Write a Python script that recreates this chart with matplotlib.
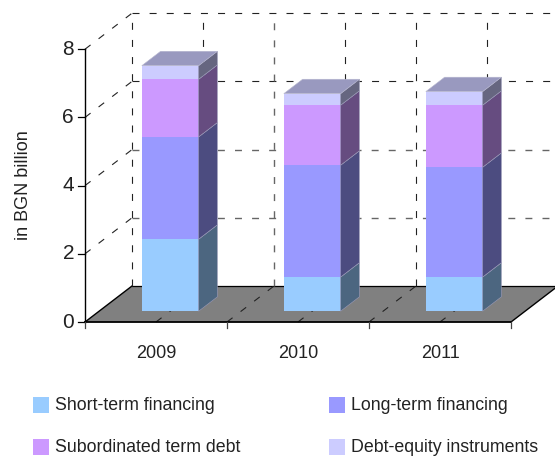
import matplotlib
matplotlib.use('Agg')
import matplotlib.pyplot as plt
from matplotlib.patches import Polygon, Rectangle

years = ['2009', '2010', '2011']
series = ['Short-term financing', 'Long-term financing',
          'Subordinated term debt', 'Debt-equity instruments']
short_term = [2.11, 1.0, 1.0]
long_term = [3.0, 3.28, 3.22]
subordinated = [1.69, 1.76, 1.82]
debt_equity = [0.40, 0.34, 0.40]
y_ticks = [0, 2, 4, 6, 8]

colors = ['#99CCFF', '#9999FF', '#CC99FF', '#CCCCFF']
side_colors = ['#4C6680', '#4C4C80', '#664C80', '#666680']
top_color = '#9999BF'

W, H = 555, 459
X0, CAT = 85, 142
Y0, UNIT = 322, 34.1
# depth of the floor, in data units
DX = 47 / CAT
DY = 36 / UNIT

plt.rcParams['font.family'] = ['Liberation Sans', 'DejaVu Sans']

fig = plt.figure(figsize=(W / 100, H / 100), dpi=100)
ax = fig.add_axes([0, 0, 1, 1])
ax.set_xlim(-X0 / CAT, (W - X0) / CAT)
ax.set_ylim((Y0 - H) / UNIT, Y0 / UNIT)
ax.axis('off')

dash = dict(color='#222222', lw=0.8, dashes=(6.3, 9.1), zorder=2)
dash_grey = dict(color='#666666', lw=1, dashes=(5, 7.3), zorder=2)

# floor
n = len(years)
ax.add_patch(Polygon([(0, 0), (n, 0), (n + DX, DY), (DX, DY)], fc='#808080', ec='none', zorder=1))
ax.plot([DX, n + DX], [DY, DY], color='black', lw=0.9, zorder=2)
ax.plot([0, DX], [0, DY], color='black', lw=1, zorder=2)
ax.plot([n, n + DX], [0, DY], color='black', lw=1, zorder=2)

# walls
for t in y_ticks[1:]:
    ax.plot([0, DX], [t, t + DY], **dash)
    ax.plot([DX, n + DX], [t + DY, t + DY], **(dash if t > 4 else dash_grey))
for i in range(n * 2):
    x = i / 2
    if i > 0:
        ax.plot([x, x + DX], [0, DY], **dash)
    ax.plot([x + DX, x + DX], [DY, 8 + DY], **(dash_grey if i == 2 else dash))

# axes
ax.plot([0, 0], [0, 8], color='black', lw=1, zorder=6)
ax.plot([0, n], [0, 0], color='black', lw=1.3, zorder=6)
for t in y_ticks:
    ax.plot([-7 / CAT, 0], [t, t], color='black', lw=0.9, zorder=6)
    ax.text(-11 / CAT, t, str(t), ha='right', va='center', fontsize=15, color='#222222')
for i in range(n + 1):
    ax.plot([i, i], [0, -6 / UNIT], color='#444444', lw=0.9, zorder=6)

# bars
left, width = 0.40, 0.40
front, depth = 0.3, 0.4
for i, year in enumerate(years):
    x0 = i + left
    x1 = x0 + width
    ox, oy = DX * front, DY * front
    px, py = DX * (depth + front) - ox, DY * (depth + front) - oy
    base = oy
    for j, vals in enumerate([short_term, long_term, subordinated, debt_equity]):
        v = vals[i]
        ax.add_patch(Rectangle((x0, base), width, v, fc=colors[j], ec='none', zorder=4))
        ax.add_patch(Polygon([(x1, base), (x1 + px, base + py), (x1 + px, base + v + py), (x1, base + v)],
                             fc=side_colors[j], ec='#9a9ab8', lw=0.4, zorder=4))
        base += v
    ax.add_patch(Polygon([(x0, base), (x1, base), (x1 + px, base + py), (x0 + px, base + py)],
                         fc=top_color, ec='#b8b8d0', lw=0.4, zorder=5))
    ax.text(i + 0.5, -31 / UNIT, year, ha='center', va='center', fontsize=13, color='#222222')

ax.text(-61 / CAT, (Y0 - 185) / UNIT, 'in BGN billion', rotation=90, ha='center', va='center',
        fontsize=13, color='#222222')

# legend
legend_pos = [(33, 397), (329, 397), (33, 439), (329, 439)]
for name, c, (lx, ly) in zip(series, colors, legend_pos):
    fig.add_artist(Rectangle((lx / W, 1 - (ly + 16) / H), 16 / W, 16 / H, fc=c, ec='none',
                             transform=fig.transFigure))
    fig.text((lx + 22) / W, 1 - (ly + 8) / H, name, ha='left', va='center', fontsize=12.8, color='#222222')

fig.savefig('out.png', dpi=100)
